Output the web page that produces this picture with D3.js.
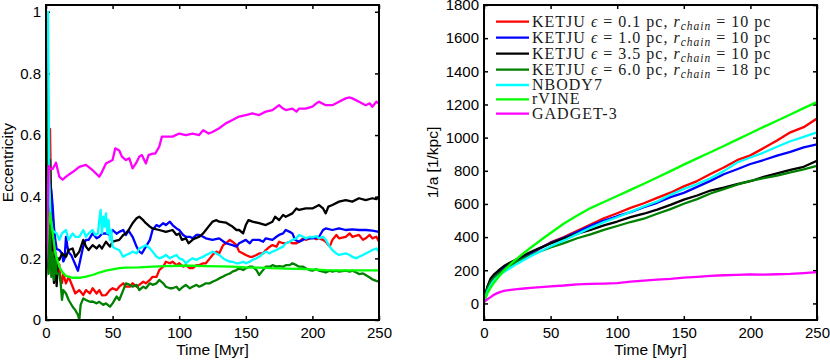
<!DOCTYPE html>
<html><head><meta charset="utf-8">
<script src="https://cdn.jsdelivr.net/npm/d3@7"></script>
<style>body{margin:0;background:#fff}svg{display:block}text{white-space:pre}</style>
</head><body>
<svg id="chart" width="830" height="361"></svg>
<script>
// ---------------- DATA ----------------
const xTicks = [0, 50, 100, 150, 200, 250];
const eccTicks = [0, 0.2, 0.4, 0.6, 0.8, 1];
const invATicks = [0, 200, 400, 600, 800, 1000, 1200, 1400, 1600, 1800];

const seriesColors = ["#ff0000", "#0000ff", "#000000", "#008000", "#00ffff", "#00ff00", "#ff00ff"];
const ketjuEps = ["0.1", "1.0", "3.5", "6.0"];
const ketjuRchain = ["10", "10", "10", "18"];
const otherNames = ["NBODY7", "rVINE", "GADGET-3"];

// Left panel: eccentricity, [time Myr, e]
const eccKetju01 = [[0,0.95],[1,0.5],[2,0.3],[3,0.62],[4,0.35],[5,0.2],[6,0.24],[7,0.18],[8,0.2],[9,0.15],[10,0.18],[11,0.13],[12,0.12],[13,0.15],[15,0.119],[17,0.14],[20,0.108],[22,0.086],[25,0.097],[28,0.081],[30,0.097],[33,0.086],[35,0.103],[38,0.086],[40,0.097],[42,0.08],[45,0.081],[48,0.097],[50,0.103],[53,0.097],[55,0.108],[58,0.119],[60,0.108],[63,0.108],[65,0.119],[68,0.108],[70,0.114],[73,0.124],[75,0.119],[78,0.13],[80,0.14],[83,0.14],[85,0.162],[88,0.173],[90,0.189],[93,0.184],[95,0.189],[98,0.178],[100,0.184],[103,0.173],[105,0.178],[108,0.168],[110,0.168],[113,0.178],[115,0.178],[118,0.184],[120,0.184],[123,0.2],[125,0.211],[128,0.222],[130,0.216],[133,0.243],[135,0.249],[138,0.26],[140,0.254],[143,0.243],[145,0.222],[148,0.216],[150,0.211],[153,0.205],[155,0.205],[158,0.211],[160,0.216],[163,0.216],[165,0.227],[168,0.238],[170,0.243],[173,0.238],[175,0.254],[178,0.249],[180,0.249],[183,0.254],[185,0.249],[188,0.249],[190,0.254],[193,0.265],[195,0.26],[198,0.265],[200,0.268],[203,0.262],[205,0.265],[208,0.26],[210,0.254],[213,0.238],[215,0.26],[218,0.276],[220,0.265],[225,0.27],[228,0.281],[230,0.27],[235,0.276],[238,0.26],[240,0.265],[243,0.276],[245,0.265],[248,0.27],[250,0.254]];
const eccKetju10 = [[0,0.9],[1,0.3],[2,0.35],[3,0.45],[4,0.42],[5,0.37],[6,0.3],[7,0.26],[8,0.23],[10,0.227],[12,0.216],[13,0.19],[14,0.2],[15,0.27],[16,0.24],[17,0.22],[19,0.21],[20,0.2],[22,0.18],[24,0.16],[26,0.2],[28,0.24],[30,0.26],[32,0.26],[35,0.281],[38,0.265],[40,0.27],[42,0.28],[45,0.281],[48,0.276],[50,0.292],[53,0.28],[55,0.286],[58,0.292],[60,0.276],[62,0.29],[65,0.27],[68,0.238],[70,0.222],[72,0.216],[75,0.238],[78,0.26],[80,0.292],[83,0.308],[85,0.303],[88,0.314],[90,0.308],[93,0.319],[95,0.308],[98,0.297],[100,0.292],[103,0.276],[105,0.27],[108,0.27],[110,0.265],[113,0.276],[115,0.276],[118,0.27],[120,0.265],[125,0.26],[130,0.265],[135,0.249],[140,0.243],[143,0.238],[145,0.249],[150,0.26],[153,0.249],[155,0.26],[160,0.26],[163,0.254],[165,0.265],[170,0.26],[173,0.27],[175,0.276],[178,0.281],[180,0.292],[183,0.286],[185,0.281],[187,0.26],[190,0.254],[193,0.26],[195,0.265],[200,0.265],[205,0.27],[208,0.292],[210,0.297],[215,0.292],[220,0.297],[225,0.292],[230,0.294],[235,0.292],[240,0.292],[245,0.29],[250,0.286]];
const eccKetju35 = [[0,0.14],[1,0.2],[2,0.3],[3,0.52],[4,0.3],[5,0.195],[6,0.12],[7,0.22],[8,0.11],[9,0.2],[10,0.195],[12,0.216],[15,0.205],[17,0.227],[20,0.232],[22,0.205],[25,0.222],[28,0.26],[30,0.238],[32,0.227],[35,0.243],[38,0.232],[40,0.243],[42,0.232],[45,0.254],[48,0.238],[50,0.254],[55,0.26],[58,0.276],[60,0.281],[62,0.292],[65,0.314],[68,0.33],[70,0.335],[73,0.324],[75,0.314],[78,0.303],[80,0.297],[85,0.292],[90,0.286],[95,0.292],[98,0.276],[100,0.281],[102,0.26],[105,0.265],[107,0.249],[110,0.26],[112,0.265],[115,0.27],[118,0.281],[120,0.292],[122,0.303],[125,0.319],[128,0.324],[130,0.319],[135,0.316],[138,0.308],[140,0.303],[143,0.292],[145,0.292],[148,0.281],[150,0.308],[152,0.324],[155,0.319],[160,0.314],[165,0.308],[170,0.319],[172,0.335],[175,0.324],[178,0.341],[180,0.335],[185,0.346],[188,0.362],[190,0.357],[195,0.362],[200,0.362],[205,0.373],[208,0.362],[210,0.346],[212,0.368],[215,0.373],[220,0.384],[225,0.389],[230,0.384],[235,0.395],[240,0.389],[245,0.395],[248,0.392],[250,0.4]];
const eccKetju60 = [[0,1.0],[1,0.45],[2,0.15],[3,0.3],[4,0.14],[5,0.22],[6,0.13],[7,0.2],[8,0.15],[10,0.15],[11,0.12],[12,0.065],[13,0.097],[15,0.086],[17,0.065],[20,0.043],[22,0.032],[24,0.016],[25,0.0],[26,0.049],[28,0.07],[30,0.065],[33,0.059],[35,0.06],[38,0.054],[40,0.059],[43,0.049],[45,0.054],[48,0.043],[50,0.054],[53,0.076],[55,0.065],[58,0.097],[60,0.119],[63,0.114],[65,0.108],[68,0.114],[70,0.097],[73,0.108],[75,0.103],[78,0.119],[80,0.114],[83,0.119],[85,0.13],[88,0.119],[90,0.108],[93,0.103],[95,0.103],[98,0.108],[100,0.097],[103,0.108],[105,0.114],[108,0.103],[110,0.108],[113,0.114],[115,0.108],[118,0.114],[120,0.119],[123,0.119],[125,0.124],[128,0.13],[130,0.135],[133,0.141],[135,0.146],[138,0.151],[140,0.157],[143,0.162],[145,0.168],[148,0.162],[150,0.168],[153,0.173],[155,0.173],[158,0.162],[160,0.146],[162,0.157],[165,0.173],[168,0.173],[170,0.178],[173,0.173],[175,0.175],[178,0.173],[180,0.178],[183,0.178],[185,0.184],[188,0.178],[190,0.173],[193,0.173],[195,0.168],[198,0.162],[200,0.16],[203,0.165],[205,0.16],[208,0.157],[210,0.154],[213,0.16],[215,0.157],[218,0.16],[220,0.157],[225,0.16],[228,0.157],[230,0.16],[233,0.154],[235,0.149],[238,0.151],[240,0.146],[243,0.138],[245,0.132],[248,0.127],[250,0.124]];
const eccNbody7 = [[0,1.0],[1.5,1.0],[2.5,0.45],[3.5,0.33],[5,0.29],[8,0.281],[10,0.26],[12,0.281],[15,0.292],[17,0.26],[20,0.281],[22,0.27],[25,0.27],[28,0.292],[30,0.27],[32,0.281],[35,0.292],[37,0.276],[39,0.281],[40,0.324],[41,0.357],[42,0.281],[43,0.335],[44,0.303],[45,0.346],[46,0.281],[47,0.324],[48,0.26],[49,0.292],[50,0.238],[52,0.232],[55,0.227],[58,0.205],[60,0.211],[63,0.216],[65,0.222],[68,0.216],[70,0.232],[73,0.238],[75,0.243],[78,0.232],[80,0.222],[83,0.205],[85,0.2],[88,0.205],[90,0.211],[93,0.2],[95,0.205],[98,0.211],[100,0.2],[103,0.195],[105,0.184],[108,0.195],[110,0.2],[113,0.195],[115,0.2],[118,0.205],[120,0.211],[123,0.216],[125,0.222],[128,0.216],[130,0.211],[133,0.2],[135,0.195],[138,0.189],[140,0.189],[143,0.184],[145,0.184],[148,0.189],[150,0.184],[153,0.189],[155,0.195],[158,0.2],[160,0.205],[163,0.216],[165,0.222],[168,0.216],[170,0.222],[173,0.227],[175,0.232],[178,0.238],[180,0.249],[183,0.254],[185,0.26],[188,0.265],[190,0.276],[193,0.27],[195,0.265],[198,0.27],[200,0.268],[203,0.272],[205,0.265],[208,0.27],[210,0.26],[213,0.238],[215,0.227],[218,0.216],[220,0.211],[225,0.216],[228,0.211],[230,0.205],[233,0.2],[235,0.205],[238,0.211],[240,0.216],[243,0.222],[245,0.227],[248,0.232],[250,0.222]];
const eccRvine = [[0,0.2],[1.5,0.3],[3,0.346],[5,0.281],[7,0.216],[10,0.173],[12,0.157],[15,0.143],[20,0.137],[25,0.137],[30,0.141],[35,0.146],[40,0.154],[45,0.16],[50,0.164],[55,0.168],[60,0.17],[70,0.171],[80,0.173],[90,0.175],[100,0.176],[110,0.176],[120,0.175],[130,0.174],[140,0.173],[150,0.171],[160,0.17],[170,0.168],[180,0.167],[190,0.166],[200,0.164],[210,0.162],[220,0.161],[230,0.161],[240,0.161],[250,0.161]];
const eccGadget3 = [[0,0.17],[1,0.3],[2,0.5],[3,0.49],[5,0.49],[7.5,0.51],[10,0.465],[12.5,0.455],[15,0.465],[20,0.48],[25,0.497],[30,0.503],[35,0.486],[40,0.465],[42,0.48],[45,0.508],[50,0.519],[52,0.557],[55,0.55],[57,0.53],[60,0.519],[62.5,0.525],[65,0.492],[67.5,0.508],[70,0.53],[72,0.535],[75,0.508],[77,0.535],[80,0.54],[82,0.54],[85,0.562],[87,0.595],[90,0.595],[95,0.595],[100,0.605],[105,0.6],[110,0.605],[115,0.6],[118,0.616],[122,0.605],[125,0.61],[130,0.622],[135,0.638],[140,0.649],[145,0.66],[150,0.665],[155,0.67],[160,0.665],[165,0.676],[170,0.681],[175,0.697],[178,0.686],[180,0.681],[185,0.686],[188,0.676],[190,0.686],[195,0.686],[200,0.692],[203,0.703],[205,0.708],[210,0.697],[215,0.697],[220,0.708],[225,0.719],[228,0.722],[230,0.719],[235,0.708],[240,0.697],[243,0.703],[245,0.692],[248,0.708],[250,0.703]];

// Right panel: 1/a [1/kpc] sampled at common times
const timeRight = [0,1,2.5,5,7.5,10,12.5,15,20,25,30,35,40,45,50,60,70,80,90,100,110,120,130,140,150,160,170,180,190,200,210,220,230,240,250];
const invAKetju01 = [14,45,90,135,160,178,195,210,238,260,282,302,322,345,368,400,438,476,514,544,576,604,637,668,706,738,780,820,864,893,937,983,1032,1063,1115];
const invAKetju10 = [14,50,95,145,170,185,200,215,240,262,285,305,325,345,365,396,431,468,499,526,551,581,607,641,667,703,739,779,809,841,865,891,914,941,960];
const invAKetju35 = [14,50,100,150,175,192,210,225,248,268,290,310,328,345,362,392,421,444,471,494,521,541,566,594,626,651,681,699,719,737,763,784,806,824,860];
const invAKetju60 = [14,45,90,130,155,172,188,203,230,252,272,290,308,322,338,364,393,417,444,467,491,511,541,569,601,629,663,689,716,739,756,771,791,809,830];
const invANbody7 = [14,35,70,110,138,158,175,190,215,240,262,285,305,325,345,380,418,456,490,520,552,585,615,655,690,720,755,798,850,880,910,945,978,1005,1032];
const invARvine = [14,30,60,95,125,150,175,198,238,272,304,336,366,396,425,482,530,575,612,648,685,722,760,798,837,875,912,950,988,1026,1065,1102,1140,1178,1214];
const invAGadget3 = [10,15,25,38,52,62,70,75,82,86,90,94,97,100,103,108,115,118,120,122,132,138,143,148,155,160,166,170,172,175,174,176,178,183,189];

// ---------------- DRAWING ----------------
const svg = d3.select("#chart");
const FONT = "'Liberation Sans', Arial, Helvetica, sans-serif";
const plotTop = 5, plotBottom = 320;

function drawPanel(left, right, yDomain, yTicks, yFmt, series, yLabel, labelX, id) {
  const x = d3.scaleLinear().domain([0, 250]).range([left, right]);
  const y = d3.scaleLinear().domain(yDomain).range([plotBottom, plotTop]);

  svg.append("clipPath").attr("id", id).append("rect")
    .attr("x", left).attr("y", plotTop).attr("width", right - left).attr("height", plotBottom - plotTop);

  const tick = 4;
  const axes = [
    {ax: d3.axisBottom(x).tickValues(xTicks).tickFormat(d3.format("d")), tr: `translate(0,${plotBottom})`, pad: 7},
    {ax: d3.axisTop(x).tickValues(xTicks).tickFormat(""), tr: `translate(0,${plotTop})`, pad: 5},
    {ax: d3.axisLeft(y).tickValues(yTicks).tickFormat(yFmt), tr: `translate(${left},0)`, pad: 5},
    {ax: d3.axisRight(y).tickValues(yTicks).tickFormat(""), tr: `translate(${right},0)`, pad: 5}
  ];
  axes.forEach(a => {
    const ag = svg.append("g").attr("transform", a.tr)
      .call(a.ax.tickSizeInner(-tick).tickSizeOuter(0).tickPadding(a.pad));
    ag.select(".domain").remove();
    ag.selectAll("line").attr("stroke", "#000").attr("stroke-width", 1.5);
    ag.selectAll("text").attr("font-family", FONT).attr("font-size", 15).attr("fill", "#000");
  });

  const line = d3.line().x(d => x(d[0])).y(d => y(d[1]));
  const lg = svg.append("g").attr("clip-path", `url(#${id})`);
  series.forEach((s, i) => {
    lg.append("path").datum(s).attr("d", line)
      .attr("fill", "none").attr("stroke", seriesColors[i])
      .attr("stroke-width", 2.3).attr("stroke-linejoin", "round");
  });

  svg.append("rect").attr("x", left).attr("y", plotTop)
    .attr("width", right - left).attr("height", plotBottom - plotTop)
    .attr("fill", "none").attr("stroke", "#000").attr("stroke-width", 2);

  svg.append("text").attr("x", (left + right) / 2).attr("y", 355)
    .attr("text-anchor", "middle").attr("font-family", FONT).attr("font-size", 15.5)
    .text("Time [Myr]");
  svg.append("text").attr("transform", `translate(${labelX},${(plotTop + plotBottom) / 2}) rotate(-90)`)
    .attr("text-anchor", "middle").attr("font-family", FONT).attr("font-size", 15.5)
    .text(yLabel);
  return {x, y};
}

const eccSeries = [eccKetju01, eccKetju10, eccKetju35, eccKetju60, eccNbody7, eccRvine, eccGadget3];
drawPanel(46, 379, [0, 1.022], eccTicks, d => d === 0 || d === 1 ? String(d) : d3.format(".1f")(d),
  eccSeries, "Eccentricity", 12.5, "clipL");

const invASeries = [invAKetju01, invAKetju10, invAKetju35, invAKetju60, invANbody7, invARvine, invAGadget3]
  .map(arr => arr.map((v, i) => [timeRight[i], v]));
drawPanel(484, 817, [-100, 1800], invATicks, d3.format("d"),
  invASeries, "1/a [1/kpc]", 438, "clipR");

// Legend
const SERIF = "'Liberation Serif', 'Times New Roman', serif";
const legX1 = 496, legX2 = 529, legTextX = 532;
const entries = ketjuEps.map((e, i) => ({math: true, eps: e, r: ketjuRchain[i]}))
  .concat(otherNames.map(n => ({math: false, name: n})));
let yy = 21.7;
entries.forEach((en, i) => {
  if (i > 0) {
    const prev = entries[i - 1];
    yy += (prev.math && en.math) ? 16 : (prev.math ? 15.3 : 14.3);
  }
  svg.append("line").attr("x1", legX1).attr("x2", legX2).attr("y1", yy).attr("y2", yy)
    .attr("stroke", seriesColors[i]).attr("stroke-width", 2.3);
  const t = svg.append("text").attr("x", legTextX).attr("y", yy + 5)
    .attr("font-family", SERIF).attr("font-size", 16).attr("fill", "#1a1a1a")
    .attr("letter-spacing", 1.0);
  if (en.math) {
    t.append("tspan").text("KETJU ");
    t.append("tspan").attr("font-style", "italic").text("\u03F5");
    t.append("tspan").text(" = " + en.eps + " pc, ");
    t.append("tspan").attr("font-style", "italic").text("r");
    t.append("tspan").attr("font-style", "italic").attr("font-size", 11.5).attr("dy", 3).text("chain");
    t.append("tspan").attr("dy", -3).text(" = " + en.r + " pc");
  } else {
    t.text(en.name);
  }
});
</script>
</body></html>
